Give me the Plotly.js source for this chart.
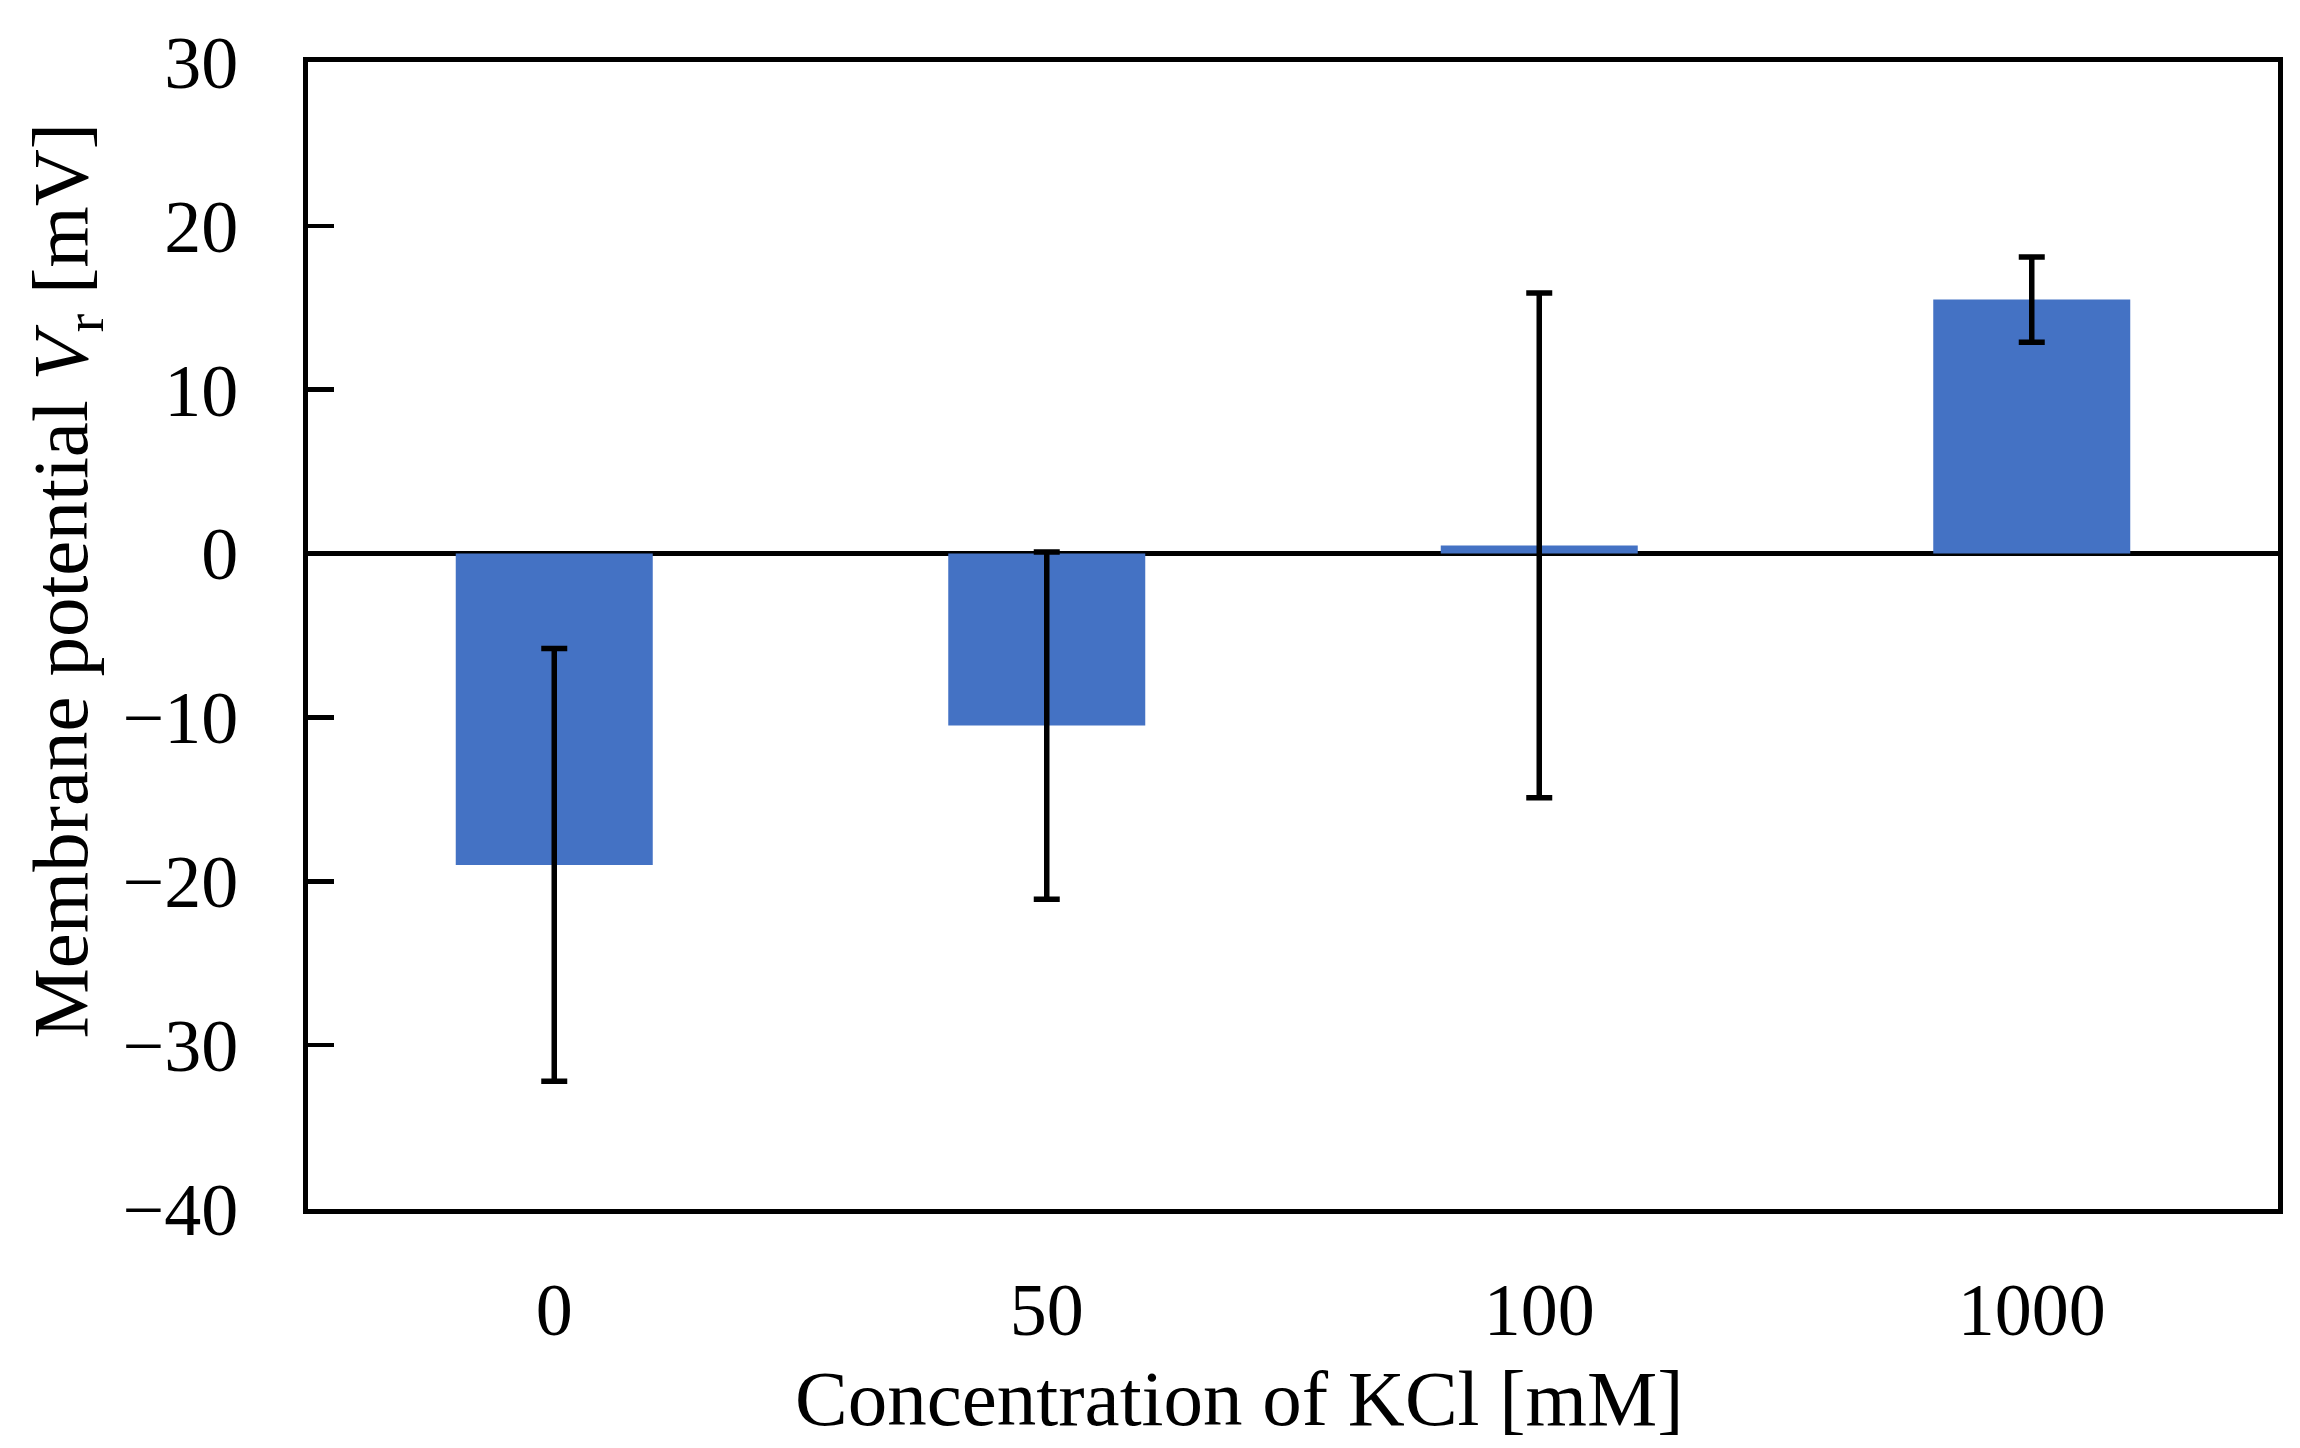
<!DOCTYPE html>
<html>
<head>
<meta charset="utf-8">
<script src="https://cdn.plot.ly/plotly-3.0.1.min.js"></script>
<style>html,body{margin:0;padding:0;background:#fff;}#chart{width:2300px;height:1448px;}</style>
</head>
<body>
<div id="chart"></div>
<script>
const categories = ["0", "50", "100", "1000"];
const meanValues = [-19.0, -10.5, 0.5, 15.5];
const errorValues = [13.2, 10.6, 15.4, 2.6];
const yTickValues = [-40, -30, -20, -10, 0, 10, 20, 30];
const xAxisTitle = "Concentration of KCl [mM]";
const yAxisTitle = "Membrane potential <i>V</i><sub>r</sub> [mV]";

const FONT = "'Palatino Linotype', 'Book Antiqua', Palatino, 'Liberation Serif', serif";

const trace = {
  type: "bar",
  x: categories,
  y: meanValues,
  marker: { color: "#4472C4", line: { width: 0 } },
  error_y: {
    type: "data",
    array: errorValues,
    visible: true,
    color: "#000000",
    thickness: 5.5,
    width: 13
  },
  hoverinfo: "x+y"
};

const layout = {
  width: 2300,
  height: 1448,
  margin: { l: 308, r: 22, t: 62, b: 239, pad: 0 },
  paper_bgcolor: "#ffffff",
  plot_bgcolor: "#ffffff",
  showlegend: false,
  bargap: 0.6,
  font: { family: FONT, size: 74, color: "#000000" },
  xaxis: {
    type: "category",
    showline: true,
    linecolor: "#000000",
    linewidth: 5,
    mirror: true,
    ticks: "",
    showgrid: false,
    zeroline: false,
    ticklabelstandoff: 32,
    tickfont: { family: FONT, size: 74, color: "#000000" }
  },
  yaxis: {
    range: [-40, 30],
    tickvals: yTickValues,
    showline: true,
    linecolor: "#000000",
    linewidth: 5,
    mirror: true,
    ticks: "inside",
    ticklen: 26,
    tickwidth: 4.5,
    tickcolor: "#000000",
    showgrid: false,
    zeroline: true,
    zerolinecolor: "#000000",
    zerolinewidth: 4.5,
    ticklabelstandoff: 50,
    tickfont: { family: FONT, size: 74, color: "#000000" }
  },
  annotations: [
    {
      text: xAxisTitle,
      xref: "paper", yref: "paper",
      x: 0.473, y: -0.165,
      xanchor: "center", yanchor: "middle",
      showarrow: false,
      font: { family: FONT, size: 79, color: "#000000" }
    },
    {
      text: yAxisTitle,
      xref: "paper", yref: "paper",
      x: -0.1228, y: 0.548,
      xanchor: "center", yanchor: "middle",
      textangle: -90,
      showarrow: false,
      font: { family: FONT, size: 79, color: "#000000" }
    }
  ]
};

Plotly.newPlot("chart", [trace], layout, { displayModeBar: false, staticPlot: true });
</script>
</body>
</html>
